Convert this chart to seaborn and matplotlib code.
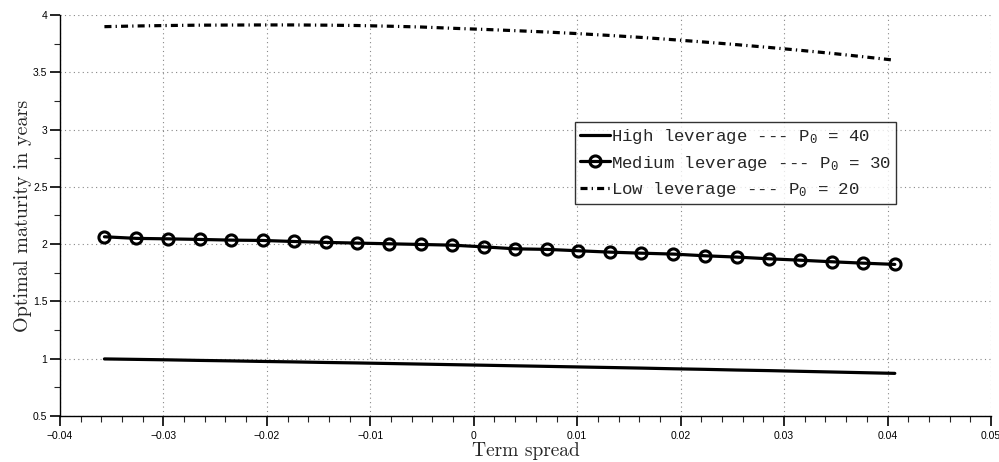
import numpy as np
import pandas as pd
import matplotlib
matplotlib.use('Agg')
import matplotlib.pyplot as plt
import seaborn as sns
from matplotlib.ticker import MultipleLocator
from matplotlib.lines import Line2D

# Term spread grid and optimal maturities
term_spread = [-0.0357, -0.0326, -0.0296, -0.0265, -0.0235, -0.0204, -0.0174,
               -0.0143, -0.0113, -0.0082, -0.0051, -0.0021, 0.0010, 0.0040,
               0.0071, 0.0101, 0.0132, 0.0162, 0.0193, 0.0224, 0.0254, 0.0285,
               0.0315, 0.0346, 0.0376, 0.0407]

high_lev = [0.998, 0.994, 0.990, 0.985, 0.981, 0.976, 0.972, 0.967, 0.963,
            0.958, 0.953, 0.948, 0.943, 0.938, 0.933, 0.928, 0.923, 0.918,
            0.912, 0.907, 0.901, 0.896, 0.890, 0.884, 0.878, 0.872]

medium_lev = [2.064, 2.050, 2.046, 2.041, 2.035, 2.032, 2.023, 2.015, 2.009,
              2.003, 1.997, 1.991, 1.976, 1.959, 1.954, 1.942, 1.930, 1.921,
              1.913, 1.898, 1.887, 1.872, 1.860, 1.846, 1.834, 1.823]

low_lev = [3.898, 3.904, 3.908, 3.911, 3.912, 3.913, 3.913, 3.911, 3.908,
           3.902, 3.895, 3.884, 3.874, 3.863, 3.851, 3.837, 3.821, 3.804,
           3.784, 3.763, 3.741, 3.717, 3.692, 3.665, 3.636, 3.605]

labels = ['High leverage --- P$_{0}$ = 40',
          'Medium leverage --- P$_{0}$ = 30',
          'Low leverage --- P$_{0}$ = 20']

sns.set_style('white')
plt.rcParams['font.family'] = ['Liberation Sans', 'DejaVu Sans']
plt.rcParams['mathtext.fontset'] = 'custom'
plt.rcParams['mathtext.rm'] = 'Liberation Mono'
plt.rcParams['mathtext.it'] = 'Liberation Mono'

df = pd.DataFrame({'x': term_spread, 'high': high_lev,
                   'medium': medium_lev, 'low': low_lev})

fig = plt.figure(figsize=(9.99, 4.62), dpi=100)
ax = fig.add_axes([0.060, 0.0996, 0.932, 0.868])

sns.lineplot(data=df, x='x', y='high', ax=ax, color='black', linewidth=2.3)
sns.lineplot(data=df, x='x', y='medium', ax=ax, color='black', linewidth=2.3,
             marker='o', markersize=8, markerfacecolor='none',
             markeredgecolor='black', markeredgewidth=2.2)
sns.lineplot(data=df, x='x', y='low', ax=ax, color='black', linewidth=2.3,
             dashes=False)
ax.lines[-1].set_dashes((2.2, 1.3, 0.4, 1.3))

ax.set_xlim(-0.04, 0.05)
ax.set_ylim(0.5, 4)
ax.xaxis.set_major_locator(MultipleLocator(0.01))
ax.xaxis.set_minor_locator(MultipleLocator(0.002))
ax.yaxis.set_major_locator(MultipleLocator(0.5))
ax.yaxis.set_minor_locator(MultipleLocator(0.25))
ax.xaxis.set_major_formatter(plt.FuncFormatter(
    lambda v, _: '0' if abs(v) < 1e-9 else f'{v:g}'.replace('-', '\u2212')))
ax.yaxis.set_major_formatter(plt.FuncFormatter(lambda v, _: f'{v:g}'))

ax.grid(True, which='major', linestyle=(0, (1, 3)), color='#888888', linewidth=0.8)
for s in ['top', 'right']:
    ax.spines[s].set_visible(False)
for s in ['left', 'bottom']:
    ax.spines[s].set_color('black')
    ax.spines[s].set_linewidth(1.0)
ax.tick_params(which='major', direction='out', length=7, width=1.2,
               labelsize=7.5, colors='black', bottom=True, left=True)
ax.tick_params(axis='y', which='major', pad=2)
ax.tick_params(which='minor', direction='out', length=4, width=0.8,
               bottom=True, left=True)

ax.set_xlabel('Term spread', family='cmr10', fontsize=14, labelpad=1)
ax.set_ylabel('Optimal maturity in years', family='cmr10', fontsize=14.5, labelpad=1)

handles = [
    Line2D([], [], color='black', linewidth=2.3),
    Line2D([], [], color='black', linewidth=2.3, marker='o', markersize=8,
           markerfacecolor='none', markeredgewidth=2.2),
    Line2D([], [], color='black', linewidth=2.3, dashes=(2.2, 1.3, 0.4, 1.3)),
]
leg = ax.legend(handles, labels, loc='upper left', bbox_to_anchor=(0.553, 0.733),
                prop={'family': 'Liberation Mono', 'size': 12.5},
                frameon=True, fancybox=False, edgecolor='black',
                handlelength=1.7, handletextpad=0.1, labelspacing=0.42,
                borderpad=0.3, borderaxespad=0)
leg.get_frame().set_linewidth(1.0)

plt.savefig('out.png', dpi=100)
plt.close()
